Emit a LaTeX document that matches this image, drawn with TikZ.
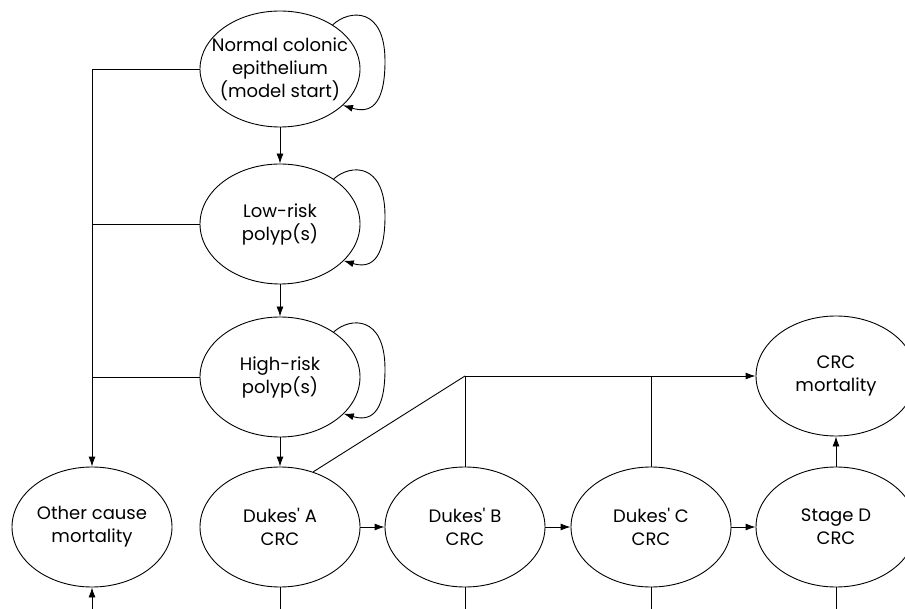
\documentclass[tikz,border=0pt]{standalone}
\usepackage{fontspec}
\setmainfont{Poppins}
\usetikzlibrary{shapes.geometric,arrows.meta,calc}
\begin{document}
\begin{tikzpicture}[x=1pt,y=-1pt,
  state/.style={draw,ellipse,line width=0.9pt,minimum width=160pt,minimum height=120pt,inner sep=0pt},
  txt/.style={align=center,inner sep=0pt,font=\fontsize{18}{23}\selectfont},
  conn/.style={line width=0.9pt},
  arr/.style={conn,-{Latex[length=10pt,width=7pt]}}]
\useasboundingbox (0,0) rectangle (905,609);
\clip (0,0) rectangle (905,609);
\fill[white] (0,0) rectangle (905,609);
\node[state,minimum height=116pt,label={[txt]center:{Normal colonic\\epithelium\\(model start)}}] (n) at (280,69) {};
\node[state,label={[txt]center:{Low-risk\\polyp(s)}}] (l) at (280,224) {};
\node[state,label={[txt]center:{High-risk\\polyp(s)}}] (h) at (280,377) {};
\node[state,label={[txt]center:{Other cause\\mortality}}] (o) at (92,527) {};
\node[state,label={[txt]center:{Dukes\textquotesingle\ A\\CRC}}] (a) at (280,527) {};
\node[state,label={[txt]center:{Dukes\textquotesingle\ B\\CRC}}] (b) at (465,527) {};
\node[state,label={[txt]center:{Dukes\textquotesingle\ C\\CRC}}] (c) at (651,527) {};
\node[state,label={[txt]center:{Stage D\\CRC}}] (d) at (836,527) {};
\node[state,label={[txt]center:{CRC\\mortality}}] (m) at (836,376) {};
% vertical chain
\draw[arr] (n.south) -- (l.north);
\draw[arr] (l.south) -- (h.north);
\draw[arr] (h.south) -- (a.north);
% self loops
\foreach \s in {n,l,h}{
  \draw[arr] (\s.40) .. controls ($(\s)+(70,-60)$) and ($(\s)+(105,-62)$) .. ($(\s)+(105,-8)$)
     .. controls ($(\s)+(105,40)$) and ($(\s)+(88,44)$) .. (\s.-30);
}
% other cause mortality
\draw[arr] (n.west) -| (o.north);
\draw[conn] (l.west) -- (l.west -| o.north);
\draw[conn] (h.west) -- (h.west -| o.north);
% horizontal chain
\draw[arr] (a.east) -- (b.west);
\draw[arr] (b.east) -- (c.west);
\draw[arr] (c.east) -- (d.west);
% to CRC mortality
\coordinate (j) at (b.north |- m.west);
\draw[conn] (a.59) -- (j);
\draw[arr] (j) -- (m.west);
\draw[conn] (b.north) -- (j);
\draw[conn] (c.north) -- (c.north |- m.west);
\draw[arr] (d.north) -- (m.south);
% stubs at bottom
\coordinate (ob) at (92,615);
\draw[arr] (ob) -- (o.south);
\foreach \s in {a,b,c,d}{
  \coordinate (\s b) at ($(\s.south)+(0,30)$);
  \draw[conn] (\s.south) -- (\s b);
}
\end{tikzpicture}
\end{document}
